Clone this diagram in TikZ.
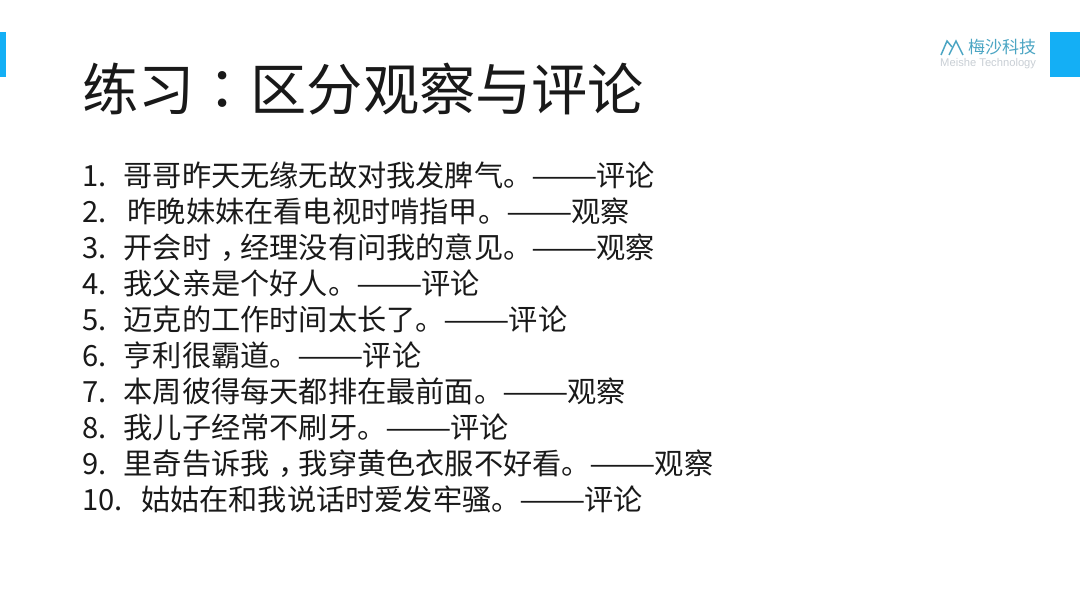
\documentclass[tikz,border=0pt]{standalone}
\usepackage{graphicx}
\usepackage{fontspec}
\setmainfont{Noto Sans CJK SC}
\newfontfamily\cjktc{Noto Sans CJK TC}
\setsansfont{Liberation Sans}
\definecolor{meisheblue}{RGB}{20,175,245}
\definecolor{logoteal}{RGB}{75,165,195}
\definecolor{logogray}{RGB}{200,206,212}
\newcommand{\longdash}{\makebox[64pt][c]{\scalebox{1.36}[1]{——}}}
\newcommand{\tcsign}[1]{{\cjktc #1}}
\newcommand{\midcomma}{\hspace{.3em}，\hspace{-.3em}}
\newcommand{\itemno}[2]{\makebox[#1pt][l]{#2}}
\tikzset{
  itemline/.style={anchor=base west, inner sep=0pt, font=\fontsize{29.2pt}{29.2pt}\selectfont, text=black!90},
  tabbar/.style={fill=meisheblue, draw=none},
}
\begin{document}
\begin{tikzpicture}[x=1pt,y=-1pt]
\useasboundingbox (0,0) rectangle (1080,608);

\fill[tabbar] (0,32) rectangle (6,77);
\fill[tabbar] (1050,32) rectangle (1080,77);

\node[anchor=base west, inner sep=0pt, font=\fontsize{56.2pt}{56.2pt}\selectfont, text=black!90] (title) at (82,110) {练习\tcsign{：}区分观察与评论};

\node[itemline] (i1) at (82,186) {\itemno{41.5}{1.}哥哥昨天无缘无故对我发脾气。\longdash 评论};
\node[itemline] (i2) at (82,222) {\itemno{45.5}{2.}昨晚妹妹在看电视时啃指甲。\longdash 观察};
\node[itemline] (i3) at (82,258) {\itemno{41.5}{3.}开会时\midcomma 经理没有问我的意见。\longdash 观察};
\node[itemline] (i4) at (82,294) {\itemno{41.5}{4.}我父亲是个好人。\longdash 评论};
\node[itemline] (i5) at (82,330) {\itemno{41.5}{5.}迈克的工作时间太长了。\longdash 评论};
\node[itemline] (i6) at (82,366) {\itemno{41.5}{6.}亨利很霸道。\longdash 评论};
\node[itemline] (i7) at (82,402) {\itemno{41.5}{7.}本周彼得每天都排在最前面。\longdash 观察};
\node[itemline] (i8) at (82,438) {\itemno{41.5}{8.}我儿子经常不刷牙。\longdash 评论};
\node[itemline] (i9) at (82,474) {\itemno{41.5}{9.}里奇告诉我\midcomma 我穿黄色衣服不好看。\longdash 观察};
\node[itemline] (i10) at (82,510) {\itemno{59}{10.}姑姑在和我说话时爱发牢骚。\longdash 评论};

\node[anchor=base west, inner sep=0pt, font=\fontsize{17pt}{17pt}\selectfont, text=logoteal] (logocn) at (968,53) {梅沙科技};
\node[anchor=base west, inner sep=0pt, font=\sffamily\fontsize{11.2pt}{11.2pt}\selectfont, text=logogray] (logoen) at (940,66) {Meishe Technology};
\draw[logoteal, line width=1.5pt] (941,55) -- (947,41) -- (952,47);
\draw[logoteal, line width=1.5pt] (949,55) -- (956,41) -- (963,55);
\end{tikzpicture}
\end{document}
